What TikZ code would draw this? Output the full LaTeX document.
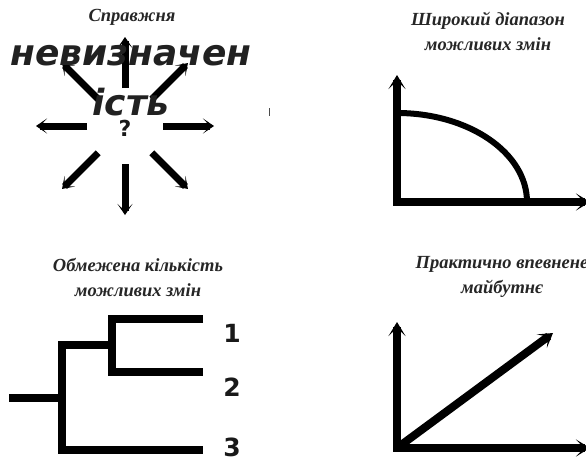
\documentclass[tikz,border=0pt]{standalone}
\usepackage{fontspec}
\setmainfont{Liberation Serif}
\newfontfamily\dejavu{DejaVu Sans}
\usetikzlibrary{arrows.meta, calc}
\tikzset{
  heading/.style={font=\fontsize{18.5}{25}\selectfont\bfseries\itshape, align=center, inner sep=0pt, text=black!85},
  bigword/.style={font=\dejavu\fontsize{36}{50}\selectfont\bfseries\itshape, align=center, inner sep=0pt, text=black!87},
  leaf/.style={font=\dejavu\fontsize{25}{25}\selectfont\bfseries, inner sep=0pt, text=black!90},
  ray/.style={line width=7pt, -{Stealth[length=11pt, width=15pt, inset=7pt]}},
  axis/.style={line width=8pt, line join=miter, {Stealth[length=14pt, width=17pt, inset=8pt]}-{Stealth[length=14pt, width=17pt, inset=8pt]}},
  branch/.style={line width=8pt, line join=miter}
}

\begin{document}
\begin{tikzpicture}[x=1pt, y=-1pt]
  \useasboundingbox (0,0) rectangle (586,461);

  % top left: true uncertainty
  \coordinate (star) at (125,126);
  \foreach \ang in {0,45,...,315}
    \draw[ray] ($(star)+(\ang:38)$) -- ($(star)+(\ang:89)$);
  \node[leaf, font=\dejavu\fontsize{22}{22}\selectfont\bfseries] (quest) at (125,128) {?};
  \node[heading] (t1) at (132,17) {Справжня};
  \node[bigword] (word) at (131,81) {невизначен\\ість};
  \draw[line width=1pt, black!70] (269,108) -- (269,116);

  % top right: wide range of futures
  \node[heading] (t2) at (488,31) {Широкий діапазон\\можливих змін};
  \coordinate (o1) at (397,202);
  \draw[axis] (397,75) -- (o1) -- (590,202);
  \draw[line width=6pt] (397,113) arc[start angle=-90, end angle=0, x radius=130, y radius=89];

  % bottom left: limited set of futures
  \node[heading] (t3) at (138,277) {Обмежена кількість\\можливих змін};
  \coordinate (leaf1) at (203,319);
  \coordinate (leaf2) at (203,372);
  \coordinate (leaf3) at (203,450);
  \draw[branch] (9,398) -- (62,398);
  \draw[branch] (leaf1) -| (112,372) -- (leaf2);
  \draw[branch] (112,345) -| (62,450) -- (leaf3);
  \node[leaf] (n1) at (232,333) {1};
  \node[leaf] (n2) at (232,387) {2};
  \node[leaf] (n3) at (232,447) {3};

  % bottom right: clear enough future
  \node[heading] (t4) at (502,277) {Практично впевнене\\майбутнє};
  \coordinate (o2) at (397,448);
  \draw[axis] (397,322) -- (o2) -- (590,448);
  \draw[line width=8pt, -{Stealth[length=14pt, width=17pt, inset=8pt]}] (o2) -- (553,333);
\end{tikzpicture}
\end{document}
